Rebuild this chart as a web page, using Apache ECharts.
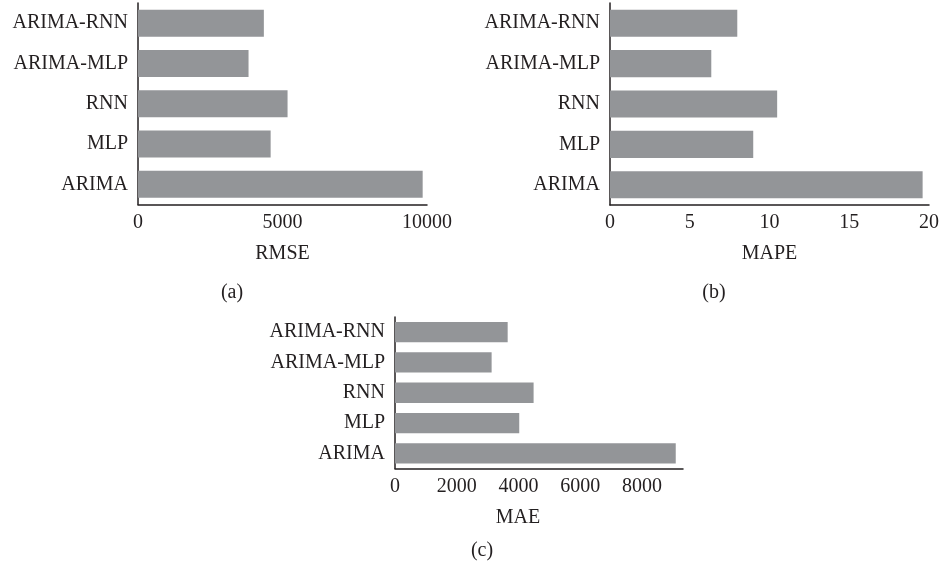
<!DOCTYPE html>
<html>
<head>
<meta charset="utf-8">
<script src="https://cdn.jsdelivr.net/npm/echarts@6/dist/echarts.min.js"></script>
<style>
  html, body { margin: 0; padding: 0; background: #fff; }
  #chart { width: 942px; height: 570px; }
</style>
</head>
<body>
<div id="chart"></div>
<script>
// Models, listed bottom-to-top as they appear on the category axis
const models = ['ARIMA', 'MLP', 'RNN', 'ARIMA-MLP', 'ARIMA-RNN'];

// Error metrics per model (same order as models)
const rmseValues = [9850, 4590, 5175, 3825, 4355];
const mapeValues = [19.6, 8.98, 10.48, 6.35, 7.98];
const maeValues  = [9095, 4025, 4490, 3130, 3650];

// Axis titles and panel captions
const metricNames = ['RMSE', 'MAPE', 'MAE'];
const captions = ['(a)', '(b)', '(c)'];

const FONT = 'Liberation Serif';
const INK = '#231f20';
const BAR = '#939598';

function plainNumber(v) { return String(v); }

function valueAxis(idx, name, max, interval, extra) {
  return Object.assign({
    type: 'value',
    gridIndex: idx,
    min: 0,
    max: max,
    interval: interval,
    name: name,
    nameLocation: 'middle',
    nameGap: 39,
    nameTextStyle: { fontFamily: FONT, fontSize: 20, color: INK },
    axisLine: { show: true, lineStyle: { color: INK, width: 1.5 } },
    axisTick: { show: false },
    splitLine: { show: false },
    axisLabel: { fontFamily: FONT, fontSize: 20, color: INK, margin: 8, formatter: plainNumber }
  }, extra || {});
}

function categoryAxis(idx) {
  return {
    type: 'category',
    gridIndex: idx,
    data: models,
    axisLine: { show: true, lineStyle: { color: INK, width: 1.5 } },
    axisTick: { show: false },
    axisLabel: { fontFamily: FONT, fontSize: 20, color: INK, margin: 10 }
  };
}

function barSeries(idx, values) {
  return {
    type: 'bar',
    xAxisIndex: idx,
    yAxisIndex: idx,
    data: values,
    barCategoryGap: '33%',
    itemStyle: { color: BAR },
    silent: true
  };
}

const chart = echarts.init(document.getElementById('chart'), null, { renderer: 'canvas' });

chart.setOption({
  backgroundColor: '#ffffff',
  animation: false,
  grid: [
    { left: 138, top: 3, width: 289, height: 201.5 },
    { left: 610, top: 3, width: 320, height: 202 },
    { left: 395, top: 317, width: 288, height: 151.5 }
  ],
  xAxis: [
    valueAxis(0, metricNames[0], 10000, 5000),
    valueAxis(1, metricNames[1], 20, 5),
    valueAxis(2, metricNames[2], 9330, 2000, {
      nameTextStyle: { fontFamily: FONT, fontSize: 20, color: INK, padding: [0, 42, 0, 0] },
      axisLabel: { fontFamily: FONT, fontSize: 20, color: INK, margin: 8, formatter: plainNumber, showMaxLabel: false }
    })
  ],
  yAxis: [categoryAxis(0), categoryAxis(1), categoryAxis(2)],
  series: [
    barSeries(0, rmseValues),
    barSeries(1, mapeValues),
    barSeries(2, maeValues)
  ],
  graphic: [
    { type: 'text', x: 232, y: 293, style: { text: captions[0], font: '20px "' + FONT + '"', fill: INK, textAlign: 'center', textVerticalAlign: 'middle' } },
    { type: 'text', x: 714, y: 293, style: { text: captions[1], font: '20px "' + FONT + '"', fill: INK, textAlign: 'center', textVerticalAlign: 'middle' } },
    { type: 'text', x: 482, y: 551, style: { text: captions[2], font: '20px "' + FONT + '"', fill: INK, textAlign: 'center', textVerticalAlign: 'middle' } }
  ]
});
</script>
</body>
</html>
